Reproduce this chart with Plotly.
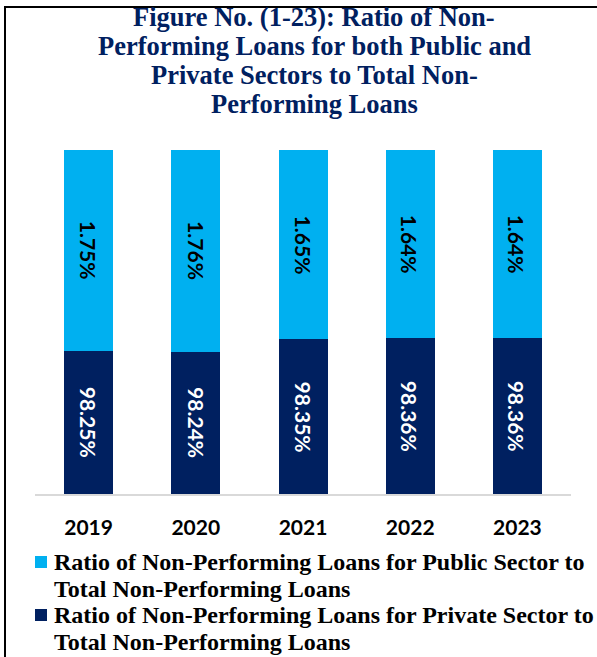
import plotly.graph_objects as go

# ---- data -------------------------------------------------------------
years = ["2019", "2020", "2021", "2022", "2023"]
public_share = [1.75, 1.76, 1.65, 1.64, 1.64]      # % of total NPLs
private_share = [98.25, 98.24, 98.35, 98.36, 98.36]  # % of total NPLs

public_name = "Ratio of Non-Performing Loans for Public Sector to Total Non-Performing Loans"
private_name = "Ratio of Non-Performing Loans for Private Sector to Total Non-Performing Loans"
public_legend_lines = ["Ratio of Non-Performing Loans for Public Sector to", "Total Non-Performing Loans"]
private_legend_lines = ["Ratio of Non-Performing Loans for Private Sector to", "Total Non-Performing Loans"]
title_lines = [
    "Figure No. (1-23): Ratio of Non-",
    "Performing Loans for both Public and",
    "Private Sectors to Total Non-",
    "Performing Loans",
]

# ---- styling ----------------------------------------------------------
W, H = 597, 657
L, R, T, B = 35, 26, 150, 163
Y_MIN, Y_MAX = 97, 100
C_PUBLIC = "#00B0F0"
C_PRIVATE = "#002060"
SERIF = "Liberation Serif, Times New Roman, serif"
SANS = "Lato, Open Sans, sans-serif"

PW, PH = W - L - R, H - T - B


def px_x(px):
    return (px - L) / PW


def px_y(py):
    return (H - B - py) / PH


fig = go.Figure()
fig.add_trace(go.Bar(x=years, y=private_share, name=private_name,
                     marker=dict(color=C_PRIVATE, line=dict(width=0)),
                     hoverinfo="x+y"))
fig.add_trace(go.Bar(x=years, y=public_share, name=public_name,
                     marker=dict(color=C_PUBLIC, line=dict(width=0)),
                     hoverinfo="x+y"))

annotations = []
# value labels, rotated, centred in the visible part of each segment
# (category axis: annotation x is the category's serial index)
for idx, (pub, pri) in enumerate(zip(public_share, private_share)):
    annotations.append(dict(x=idx, y=pri + pub / 2, xref="x", yref="y",
                            text=f"{pub:.2f}%", showarrow=False, textangle=90,
                            font=dict(family=SANS, size=21, color="#000000", weight="bold")))
    annotations.append(dict(x=idx, y=(Y_MIN + pri) / 2, xref="x", yref="y",
                            text=f"{pri:.2f}%", showarrow=False, textangle=90,
                            font=dict(family=SANS, size=21, color="#FFFFFF", weight="bold")))

# title
for i, line in enumerate(title_lines):
    annotations.append(dict(x=px_x(314), y=px_y(17 + 29 * i), xref="paper", yref="paper",
                            xanchor="center", yanchor="middle", text=line,
                            showarrow=False,
                            font=dict(family=SERIF, size=26.5, color="#002060", weight="bold")))

# legend (square key + two-line label per series)
shapes = []
for k, (lines, col) in enumerate([(public_legend_lines, C_PUBLIC), (private_legend_lines, C_PRIVATE)]):
    cy = 562 + 53 * k
    shapes.append(dict(type="rect", xref="paper", yref="paper",
                       x0=px_x(35), x1=px_x(47), y0=px_y(cy + 6), y1=px_y(cy - 6),
                       fillcolor=col, line=dict(width=0)))
    for j, line in enumerate(lines):
        annotations.append(dict(x=px_x(52), y=px_y(cy + 27 * j), xref="paper", yref="paper",
                                xanchor="left", yanchor="middle", text=line,
                                showarrow=False,
                                font=dict(family=SERIF, size=24, color="#000000", weight="bold")))

# outer frame
shapes.append(dict(type="rect", xref="paper", yref="paper", layer="above",
                   x0=px_x(5), x1=px_x(640), y0=px_y(700), y1=px_y(7),
                   line=dict(color="#000000", width=2), fillcolor="rgba(0,0,0,0)"))

fig.update_layout(
    width=W, height=H,
    margin=dict(l=L, r=R, t=T, b=B, pad=0),
    barmode="stack",
    bargap=0.543,
    showlegend=False,
    paper_bgcolor="white",
    plot_bgcolor="white",
    annotations=annotations,
    shapes=shapes,
    xaxis=dict(type="category", range=[-0.5, len(years) - 0.5],
               showline=True, linecolor="#D9D9D9", linewidth=2, ticks="",
               showgrid=False, zeroline=False, ticklabelstandoff=14,
               tickfont=dict(family=SANS, size=21, color="#000000", weight="bold")),
    yaxis=dict(range=[Y_MIN, Y_MAX], visible=False, showgrid=False, zeroline=False),
)

fig.write_html("out.html")
